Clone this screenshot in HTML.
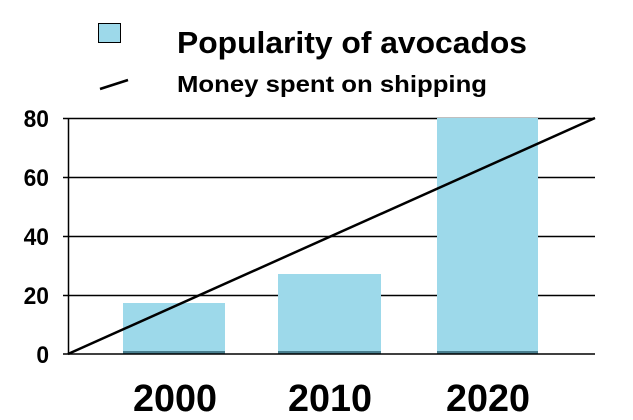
<!DOCTYPE html>
<html><head><style>body{margin:0;background:#fff}</style></head><body>
<svg width="633" height="415" viewBox="0 0 633 415" xmlns="http://www.w3.org/2000/svg" font-family="Liberation Sans, sans-serif" font-weight="bold">
<rect width="633" height="415" fill="#fff"/>
<g stroke="#000" stroke-width="1.5">
<line x1="63" y1="118.5" x2="595" y2="118.5"/>
<line x1="63" y1="177.5" x2="595" y2="177.5"/>
<line x1="63" y1="236.5" x2="595" y2="236.5"/>
<line x1="63" y1="295.5" x2="595" y2="295.5"/>
</g>
<rect x="123" y="303" width="102" height="51" fill="#9dd9ea"/>
<rect x="278" y="274" width="103" height="80" fill="#9dd9ea"/>
<rect x="437" y="118" width="101" height="236" fill="#9dd9ea"/>
<rect x="123" y="351" width="102" height="3" fill="#4a7f8f"/>
<rect x="278" y="351" width="103" height="3" fill="#4a7f8f"/>
<rect x="437" y="351" width="101" height="3" fill="#4a7f8f"/>
<line x1="63" y1="354" x2="595" y2="354" stroke="#000" stroke-width="1.5"/>
<line x1="68.5" y1="118" x2="68.5" y2="354" stroke="#000" stroke-width="1.5"/>
<line x1="68" y1="354" x2="595" y2="118" stroke="#000" stroke-width="2.5"/>
<g font-size="24" text-anchor="end">
<text x="49" y="127" transform="translate(49 0) scale(0.95 1) translate(-49 0)">80</text>
<text x="49" y="186" transform="translate(49 0) scale(0.95 1) translate(-49 0)">60</text>
<text x="49" y="245" transform="translate(49 0) scale(0.95 1) translate(-49 0)">40</text>
<text x="49" y="304" transform="translate(49 0) scale(0.95 1) translate(-49 0)">20</text>
<text x="49" y="363" transform="translate(49 0) scale(0.95 1) translate(-49 0)">0</text>
</g>
<g font-size="38">
<text x="133" y="411" textLength="84" lengthAdjust="spacingAndGlyphs">2000</text>
<text x="288" y="411" textLength="84" lengthAdjust="spacingAndGlyphs">2010</text>
<text x="446" y="411" textLength="84" lengthAdjust="spacingAndGlyphs">2020</text>
</g>
<rect x="98.5" y="23.5" width="22" height="19" fill="#9dd9ea" stroke="#000" stroke-width="1"/>
<line x1="100" y1="89" x2="128" y2="80" stroke="#000" stroke-width="2.5"/>
<text x="177" y="53" font-size="31" textLength="350" lengthAdjust="spacingAndGlyphs">Popularity of avocados</text>
<text x="177" y="92" font-size="23" textLength="310" lengthAdjust="spacingAndGlyphs">Money spent on shipping</text>
</svg>
</body></html>
